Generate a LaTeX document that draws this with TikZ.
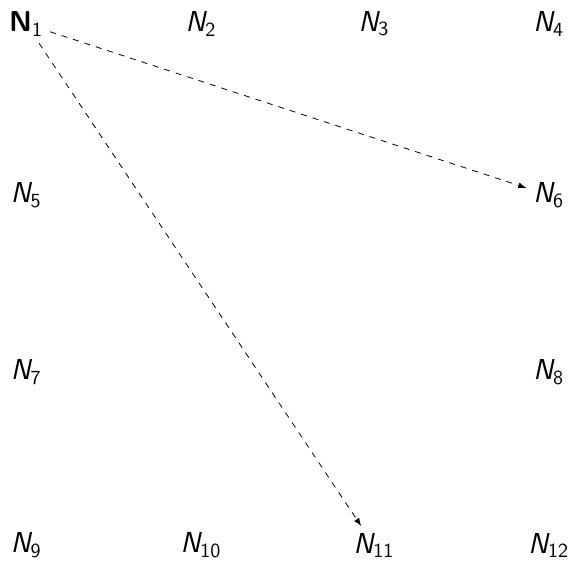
\documentclass[tikz,border=0pt]{standalone}
\usepackage{amsmath}
\usetikzlibrary{arrows.meta,positioning}
\newcommand{\nlab}[1]{$\textsf{\itshape N}_{\textsf{#1}}$}
\newcommand{\nlabb}[1]{$\textsf{\bfseries N}_{\textsf{#1}}$}

\begin{document}
\begin{tikzpicture}[font=\Large, >=latex]
  \useasboundingbox (0,0) rectangle (10.05,-9.87);
  % grid of nodes
  \node (n1)  at (0.46,-0.42) {\nlabb{1}};
  \node (n2)  at (3.53,-0.42) {\nlab{2}};
  \node (n3)  at (6.57,-0.42) {\nlab{3}};
  \node (n4)  at (9.64,-0.42) {\nlab{4}};
  \node (n5)  at (0.46,-3.43) {\nlab{5}};
  \node (n6)  at (9.64,-3.43) {\nlab{6}};
  \node (n7)  at (0.46,-6.54) {\nlab{7}};
  \node (n8)  at (9.64,-6.54) {\nlab{8}};
  \node (n9)  at (0.46,-9.58) {\nlab{9}};
  \node (n10) at (3.53,-9.58) {\nlab{10}};
  \node (n11) at (6.57,-9.58) {\nlab{11}};
  \node (n12) at (9.64,-9.58) {\nlab{12}};
  % dashed links
  \draw[->, dashed] (n1) -- (n6);
  \draw[->, dashed] (n1) -- (n11);
\end{tikzpicture}
\end{document}
